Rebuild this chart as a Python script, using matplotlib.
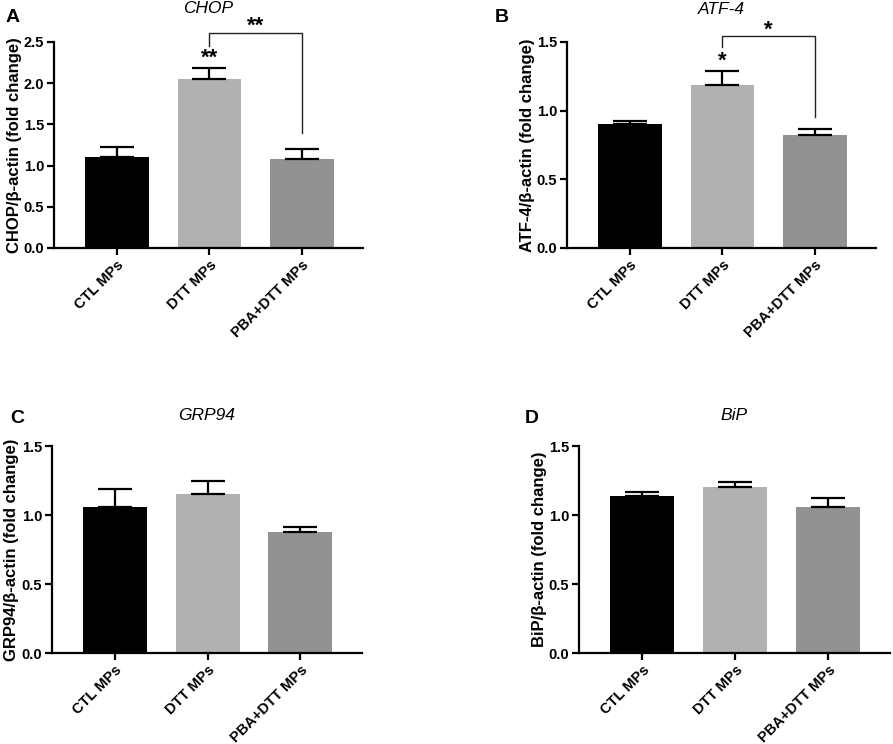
import matplotlib
matplotlib.use("Agg")
import matplotlib.pyplot as plt

plt.rcParams["font.family"] = ["Liberation Sans", "DejaVu Sans"]

groups = ["CTL MPs", "DTT MPs", "PBA+DTT MPs"]
bar_colors = ["#000000", "#b1b1b3", "#929292"]

chop_mean = [1.10, 2.05, 1.08]
chop_sem = [0.12, 0.13, 0.12]
atf4_mean = [0.90, 1.19, 0.82]
atf4_sem = [0.025, 0.10, 0.045]
grp94_mean = [1.06, 1.15, 0.88]
grp94_sem = [0.13, 0.095, 0.03]
bip_mean = [1.14, 1.20, 1.06]
bip_sem = [0.03, 0.04, 0.065]

panels = [
    # letter, title, ylabel, means, sems, ymax, yticks, axes rect, letter pos, title y
    ("A", "CHOP", "CHOP/β-actin (fold change)", chop_mean, chop_sem, 2.5,
     [0.0, 0.5, 1.0, 1.5, 2.0, 2.5], [0.0605, 0.6667, 0.346, 0.2769], (0.014, 0.977), 0.989),
    ("B", "ATF-4", "ATF-4/β-actin (fold change)", atf4_mean, atf4_sem, 1.5,
     [0.0, 0.5, 1.0, 1.5], [0.635, 0.6667, 0.346, 0.2769], (0.562, 0.977), 0.9866),
    ("C", "GRP94", "GRP94/β-actin (fold change)", grp94_mean, grp94_sem, 1.5,
     [0.0, 0.5, 1.0, 1.5], [0.058, 0.1223, 0.347, 0.2782], (0.019, 0.438), 0.442),
    ("D", "BiP", "BiP/β-actin (fold change)", bip_mean, bip_sem, 1.5,
     [0.0, 0.5, 1.0, 1.5], [0.6484, 0.1223, 0.348, 0.2782], (0.596, 0.438), 0.442),
]

# significance: (star above DTT, bracket label, bracket top, left leg end, right leg end)
significance = {
    "A": ("**", "**", 2.61, 2.45, 1.40),
    "B": ("*", "*", 1.54, 1.46, 0.95),
}

fig = plt.figure(figsize=(8.93, 7.44), dpi=100)
x = list(range(len(groups)))

for letter, title, ylabel, means, sems, ymax, yticks, rect, lpos, ty in panels:
    ax = fig.add_axes(rect)
    ax.bar(x, means, width=0.69, color=bar_colors, edgecolor="none", zorder=2)
    ax.errorbar(x, means, yerr=[[0] * 3, sems], fmt="none", ecolor="black",
                elinewidth=1.6, capsize=12, capthick=1.6, zorder=3)
    ax.set_xlim(-0.68, 2.66)
    ax.set_ylim(0, ymax)
    ax.set_yticks(yticks)
    ax.set_yticklabels([f"{t:.1f}" for t in yticks], fontsize=10.5, fontweight="bold")
    ax.set_xticks(x)
    ax.set_xticklabels(groups, rotation=45, ha="right", rotation_mode="anchor",
                       fontsize=10.5, fontweight="bold")
    ax.set_ylabel(ylabel, fontsize=12, fontweight="bold", labelpad=1.5)
    for side in ("top", "right"):
        ax.spines[side].set_visible(False)
    for side in ("left", "bottom"):
        ax.spines[side].set_linewidth(1.6)
    ax.tick_params(axis="both", width=1.6, length=5, pad=2)

    fig.text(rect[0] + rect[2] / 2, ty, title, fontsize=12.5, fontstyle="italic",
             ha="center", va="center")
    fig.text(lpos[0], lpos[1], letter, fontsize=14, fontweight="bold",
             ha="center", va="center")

    if letter in significance:
        star, blabel, top, left_end, right_end = significance[letter]
        ax.annotate(star, xy=(1, means[1] + sems[1]), xytext=(0, -0.5),
                    textcoords="offset points", ha="center", va="bottom",
                    fontsize=16, fontweight="bold", annotation_clip=False)
        ax.plot([1, 1, 2, 2], [left_end, top, top, right_end], color="#222222",
                lw=1.0, clip_on=False)
        ax.annotate(blabel, xy=(1.5, top), xytext=(0, -3),
                    textcoords="offset points", ha="center", va="bottom",
                    fontsize=16, fontweight="bold", annotation_clip=False)

fig.savefig("out.png", dpi=100)
